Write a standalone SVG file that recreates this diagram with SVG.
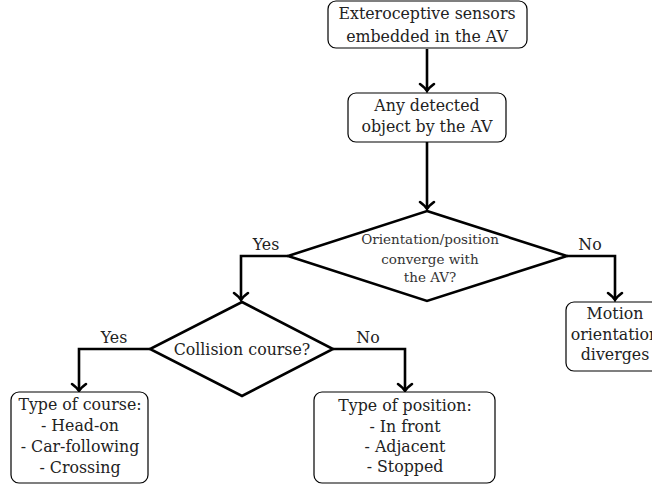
<svg xmlns="http://www.w3.org/2000/svg" width="652" height="486" viewBox="0 0 652 486">
  <style>
    .box { fill: #ffffff; stroke: #000000; stroke-width: 1.2; }
    .dia { fill: #ffffff; stroke: #000000; stroke-width: 2.6; stroke-linejoin: miter; }
    .t { font-size: 15.8px; fill: #222222; text-anchor: middle; }
    .ts { font-size: 13.5px; fill: #333333; text-anchor: middle; }
    .edge { fill: none; stroke: #000000; stroke-width: 2.6; marker-end: url(#to); }
  </style>
  <defs>
    <!-- curved open barb arrowhead -->
    <marker id="to" markerUnits="userSpaceOnUse" markerWidth="20" markerHeight="20" refX="0" refY="0" orient="auto" overflow="visible">
      <path d="M -7 -7 C -4 -3 -1.5 -0.8 0 0 C -1.5 0.8 -4 3 -7 7" fill="none" stroke="#000000" stroke-width="2.6" stroke-linecap="round"/>
    </marker>
  </defs>
  <rect width="652" height="486" fill="#ffffff"/>

  <g font-family="DejaVu Serif, serif">
  <g id="connectors">
    <path class="edge" d="M 427 49 L 427 91"/>
    <path class="edge" d="M 427 142 L 427 209"/>
    <path class="edge" d="M 288 256 L 241 256 L 241 300"/>
    <path class="edge" d="M 567 256 L 615 256 L 615 300"/>
    <path class="edge" d="M 150 349 L 79 349 L 79 391"/>
    <path class="edge" d="M 333 349 L 405 349 L 405 391"/>
    <text class="t" x="266" y="250">Yes</text>
    <text class="t" x="590" y="250">No</text>
    <text class="t" x="114" y="343">Yes</text>
    <text class="t" x="368" y="343">No</text>
  </g>

  <g id="sensors">
    <rect class="box" x="328" y="1" width="199" height="47" rx="8"/>
    <text class="t" x="427" y="19">Exteroceptive sensors</text>
    <text class="t" x="427" y="42">embedded in the AV</text>
  </g>

  <g id="detected">
    <rect class="box" x="348" y="93" width="158" height="49" rx="8"/>
    <text class="t" x="427" y="111">Any detected</text>
    <text class="t" x="427" y="132">object by the AV</text>
  </g>

  <g id="converge">
    <polygon class="dia" points="427,211 567,256 427,301 288,256"/>
    <text class="ts" x="430" y="244">Orientation/position</text>
    <text class="ts" x="430" y="264">converge with</text>
    <text class="ts" x="430" y="282">the AV?</text>
  </g>

  <g id="diverges">
    <rect class="box" x="566" y="302" width="100" height="69" rx="8"/>
    <text class="t" x="615" y="319">Motion</text>
    <text class="t" x="615" y="340">orientation</text>
    <text class="t" x="615" y="360">diverges</text>
  </g>

  <g id="collision">
    <polygon class="dia" points="242,302 333,349 242,396 150,349"/>
    <text class="t" x="242" y="355">Collision course?</text>
  </g>

  <g id="course">
    <rect class="box" x="11" y="392" width="137" height="91" rx="8"/>
    <text class="t" x="80" y="410">Type of course:</text>
    <text class="t" x="80" y="431">- Head-on</text>
    <text class="t" x="80" y="452">- Car-following</text>
    <text class="t" x="80" y="473">- Crossing</text>
  </g>

  <g id="position">
    <rect class="box" x="314" y="392" width="181" height="91" rx="8"/>
    <text class="t" x="405" y="411">Type of position:</text>
    <text class="t" x="405" y="432">- In front</text>
    <text class="t" x="405" y="452">- Adjacent</text>
    <text class="t" x="405" y="472">- Stopped</text>
  </g>
  </g>
</svg>
